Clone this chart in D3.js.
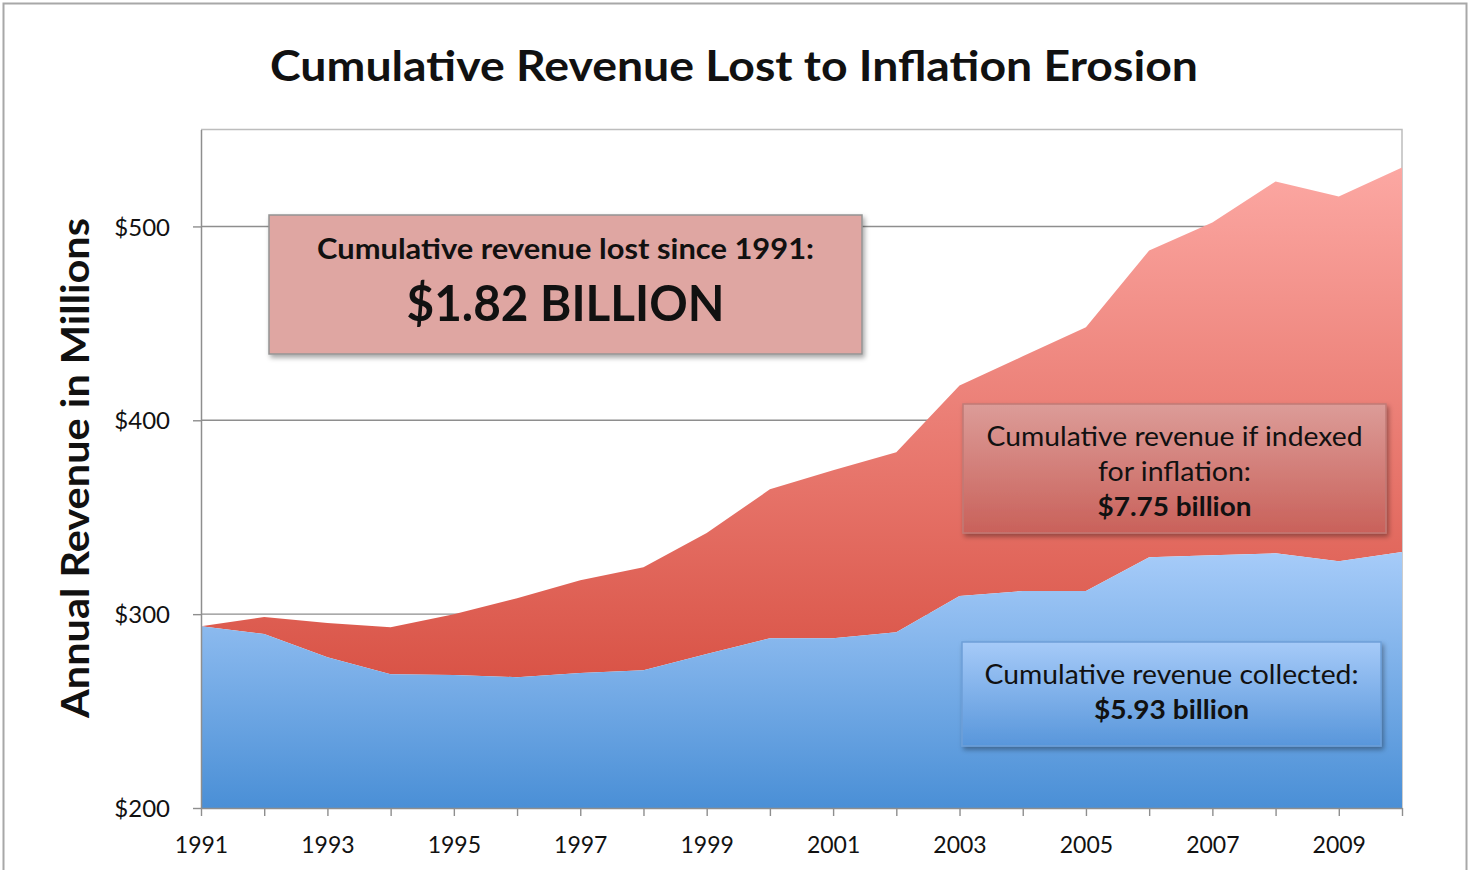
<!DOCTYPE html>
<html>
<head>
<meta charset="utf-8">
<script src="https://cdn.jsdelivr.net/npm/d3@7"></script>
<style>
  body { margin: 0; background: #fff; }
  text { font-family: Lato, "Open Sans", sans-serif; fill: #111; }
</style>
</head>
<body>
<div id="chart"></div>
<script>
const years = d3.range(1991, 2011);
const collected = [293.8, 289.7, 277.8, 269.0, 268.6, 267.5, 269.6, 271.0, 279.4, 287.6,
                   287.6, 290.7, 309.3, 311.9, 311.9, 329.4, 330.4, 331.4, 327.3, 332.0];
const indexed = [293.8, 298.5, 295.4, 293.3, 300.0, 308.2, 317.5, 324.2, 341.8, 364.4,
                 374.2, 383.5, 418.0, 433.0, 448.0, 487.6, 502.0, 523.2, 515.5, 530.4];
const yTicks = [200, 300, 400, 500];
const xLabelYears = [1991, 1993, 1995, 1997, 1999, 2001, 2003, 2005, 2007, 2009];

const title = "Cumulative Revenue Lost to Inflation Erosion";
const yTitle = "Annual Revenue in Millions";

const width = 1474, height = 870;

const svg = d3.select("#chart")
  .append("svg")
  .attr("width", width)
  .attr("height", height);

const defs = svg.append("defs");

function grad(id, stops, y1, y2, units) {
  const g = defs.append("linearGradient")
    .attr("id", id)
    .attr("x1", 0).attr("x2", 0)
    .attr("y1", y1).attr("y2", y2);
  if (units) g.attr("gradientUnits", units);
  stops.forEach(([o, c]) => g.append("stop").attr("offset", o).attr("stop-color", c));
}

grad("blueArea", [[0, "#a7ccf9"], [1, "#4a8fd6"]], 550, 808, "userSpaceOnUse");
grad("redArea", [[0, "#fca8a3"], [1, "#d95346"]], 165, 680, "userSpaceOnUse");
grad("redBox", [[0, "#dc9c98"], [1, "#c9615a"]], 0, 1);
grad("blueBox", [[0, "#a6caf8"], [1, "#5896db"]], 0, 1);

const shadow = defs.append("filter").attr("id", "shadow")
  .attr("x", "-10%").attr("y", "-10%").attr("width", "130%").attr("height", "140%");
shadow.append("feDropShadow")
  .attr("dx", 2).attr("dy", 3).attr("stdDeviation", 2.5)
  .attr("flood-color", "#000").attr("flood-opacity", 0.35);

// outer frame
svg.append("rect")
  .attr("x", 3.5).attr("y", 3.5)
  .attr("width", 1463).attr("height", 900)
  .attr("fill", "none")
  .attr("stroke", "#a8a8a8")
  .attr("stroke-width", 2);

const x = d3.scaleLinear().domain([1991, 2010]).range([201, 1402]);
const y = d3.scaleLinear().domain([200, 550]).range([808, 129.5]);

// plot frame top/right
svg.append("path")
  .attr("d", `M${x(1991)},${y(550)}H${x(2010)}V${y(200)}`)
  .attr("fill", "none")
  .attr("stroke", "#bdbdbd")
  .attr("stroke-width", 1.5);

// gridlines
svg.append("g")
  .selectAll("line")
  .data(yTicks.slice(1))
  .join("line")
  .attr("x1", x(1991)).attr("x2", x(2010))
  .attr("y1", d => y(d)).attr("y2", d => y(d))
  .attr("stroke", "#8e8e8e")
  .attr("stroke-width", 1.4);

const data = years.map((yr, i) => ({ yr, lo: collected[i], hi: indexed[i] }));

svg.append("path")
  .datum(data)
  .attr("fill", "url(#redArea)")
  .attr("d", d3.area().x(d => x(d.yr)).y0(d => y(d.lo)).y1(d => y(d.hi)));

svg.append("path")
  .datum(data)
  .attr("fill", "url(#blueArea)")
  .attr("d", d3.area().x(d => x(d.yr)).y0(y(200)).y1(d => y(d.lo)));

// axes
const yAxis = svg.append("g")
  .attr("transform", `translate(${x(1991)},0)`)
  .call(d3.axisLeft(y).tickValues(yTicks).tickSize(8).tickSizeOuter(0).tickPadding(24)
    .tickFormat(d => "$" + d));
yAxis.select(".domain").attr("stroke", "#8e8e8e").attr("stroke-width", 1.5);
yAxis.selectAll(".tick line").attr("stroke", "#8e8e8e").attr("stroke-width", 1.4);
yAxis.selectAll(".tick text")
  .attr("font-size", 24).attr("font-family", "Lato").attr("fill", "#222")
  .attr("dy", "0.36em").attr("x", -31);

const xAxis = svg.append("g")
  .attr("transform", `translate(0,${y(200)})`)
  .call(d3.axisBottom(x).tickValues(years).tickSize(8).tickSizeOuter(0).tickPadding(12)
    .tickFormat(d => xLabelYears.includes(d) ? String(d) : ""));
xAxis.select(".domain").attr("stroke", "#8e8e8e").attr("stroke-width", 1.5);
xAxis.selectAll(".tick line").attr("stroke", "#8e8e8e").attr("stroke-width", 1.4);
xAxis.selectAll(".tick text")
  .attr("font-size", 23).attr("font-family", "Lato").attr("fill", "#222")
  .attr("dy", "0.71em").attr("y", 29);

// titles
svg.append("text")
  .attr("x", 734).attr("y", 81)
  .attr("text-anchor", "middle")
  .attr("font-size", 42).attr("font-weight", "bold")
  .attr("textLength", 928).attr("lengthAdjust", "spacingAndGlyphs")
  .text(title);

svg.append("text")
  .attr("transform", "translate(89,468) rotate(-90)")
  .attr("text-anchor", "middle")
  .attr("font-size", 39).attr("font-weight", "bold")
  .attr("textLength", 500).attr("lengthAdjust", "spacingAndGlyphs")
  .text(yTitle);

// annotation boxes
const boxes = [
  { x: 269, y: 215, w: 593, h: 139, fill: "#dfa6a2", stroke: "#949494",
    lines: [
      { t: "Cumulative revenue lost since 1991:", y: 259, size: 28, bold: true, len: 497 },
      { t: "$1.82 BILLION", y: 321, size: 50, bold: true, len: 318 }
    ] },
  { x: 963, y: 404, w: 423, h: 129, fill: "url(#redBox)", stroke: "#c07a76",
    lines: [
      { t: "Cumulative revenue if indexed", y: 446, size: 26, bold: false, len: 376 },
      { t: "for inflation:", y: 481, size: 26, bold: false, len: 153 },
      { t: "$7.75 billion", y: 516, size: 26, bold: true, len: 154 }
    ] },
  { x: 962, y: 642, w: 419, h: 104, fill: "url(#blueBox)", stroke: "#6d9fd8",
    lines: [
      { t: "Cumulative revenue collected:", y: 684, size: 26, bold: false, len: 374 },
      { t: "$5.93 billion", y: 719, size: 26, bold: true, len: 155 }
    ] }
];

const box = svg.append("g")
  .selectAll("g")
  .data(boxes)
  .join("g");

box.append("rect")
  .attr("x", d => d.x).attr("y", d => d.y)
  .attr("width", d => d.w).attr("height", d => d.h)
  .attr("fill", d => d.fill)
  .attr("stroke", d => d.stroke)
  .attr("stroke-width", 1.5)
  .attr("filter", "url(#shadow)");

box.selectAll("text")
  .data(d => d.lines.map(l => ({ ...l, cx: d.x + d.w / 2 })))
  .join("text")
  .attr("x", d => d.cx).attr("y", d => d.y)
  .attr("text-anchor", "middle")
  .attr("font-size", d => d.size)
  .attr("font-weight", d => d.bold ? "bold" : "normal")
  .attr("textLength", d => d.len).attr("lengthAdjust", "spacingAndGlyphs")
  .text(d => d.t);
</script>
</body>
</html>
